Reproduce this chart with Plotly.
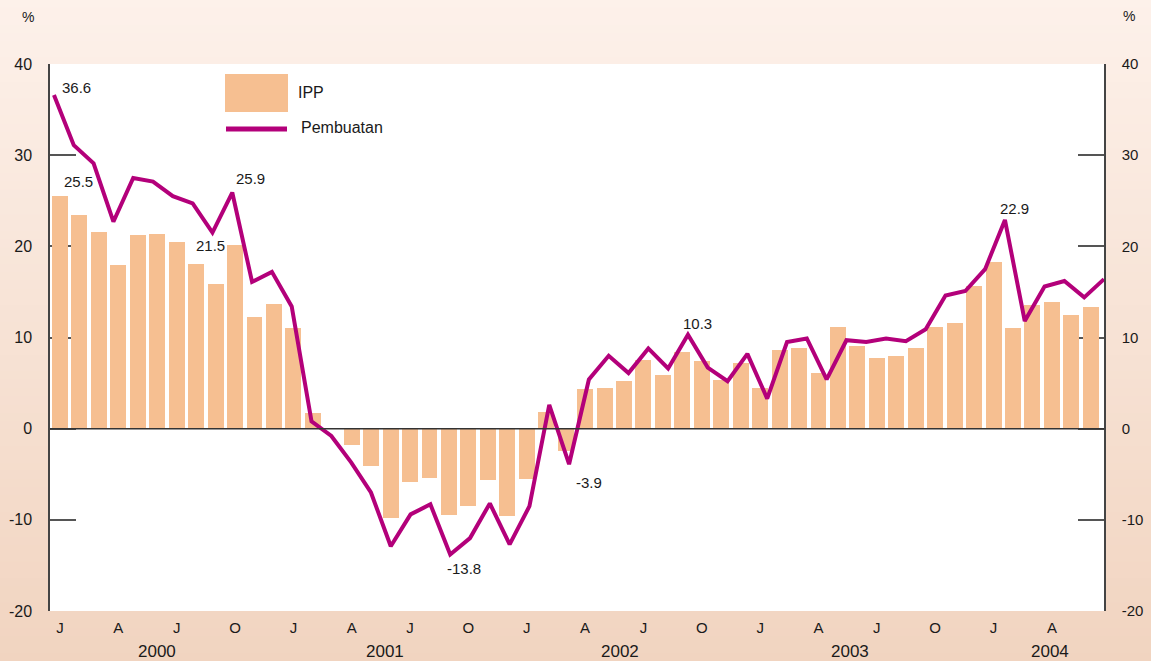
import plotly.graph_objects as go

# ---------------- data ----------------
ipp = [25.5, 23.4, 21.6, 17.9, 21.2, 21.3, 20.5, 18.1, 15.9, 20.2, 12.3, 13.7,
       11.0, 1.7, 0.0, -1.8, -4.1, -9.8, -5.9, -5.4, -9.5, -8.5, -5.6, -9.6,
       -5.5, 1.8, -2.5, 4.4, 4.5, 5.2, 7.5, 5.9, 8.4, 7.4, 5.3, 7.2,
       4.5, 8.6, 8.9, 6.1, 11.1, 9.1, 7.8, 8.0, 8.9, 11.2, 11.6, 15.6,
       18.3, 11.0, 13.6, 13.9, 12.5, 13.3]

pembuatan = [36.6, 31.1, 29.1, 22.7, 27.5, 27.1, 25.5, 24.7, 21.5, 25.9, 16.1, 17.2,
             13.4, 0.8, -0.8, -3.7, -7.0, -12.9, -9.4, -8.3, -13.8, -12.0, -8.2, -12.7,
             -8.5, 2.6, -3.9, 5.4, 8.0, 6.1, 8.8, 6.6, 10.3, 6.7, 5.2, 8.2,
             3.3, 9.5, 9.9, 5.4, 9.7, 9.5, 9.9, 9.6, 10.9, 14.6, 15.1, 17.5,
             22.9, 11.8, 15.6, 16.2, 14.4, 16.4]

month_labels = ["J", "A", "J", "O"] * 4 + ["J", "A"]
years = ["2000", "2001", "2002", "2003", "2004"]
series_names = ["IPP", "Pembuatan"]
y_ticks = [-20, -10, 0, 10, 20, 30, 40]

# labelled points: (series, index)
labelled = [("pembuatan", 0), ("ipp", 0), ("pembuatan", 8), ("pembuatan", 9),
            ("pembuatan", 20), ("pembuatan", 26), ("pembuatan", 32), ("pembuatan", 48)]

# ---------------- layout geometry / style ----------------
W, H = 1151, 661
L, R, T, B = 50, 47, 64, 50
pw, ph = W - L - R, H - T - B

def px(xp):
    return (xp - L) / pw

def py(yp):
    return (H - B - yp) / ph

BAR_COLOR = "#f6bf91"
LINE_COLOR = "#b3007a"
TEXT = "#1a1a1a"
FONT = "Liberation Sans, Arial, sans-serif"

idx = list(range(len(ipp)))
tick_idx = list(range(0, len(ipp), 3))[:len(month_labels)]
year_pos = [5.0, 16.7, 28.8, 40.6, 50.9]

label_offsets = {
    ("pembuatan", 0): (23, 8),
    ("ipp", 0): (18, 15),
    ("pembuatan", 8): (-2, -13),
    ("pembuatan", 9): (18, 14),
    ("pembuatan", 20): (14, -14),
    ("pembuatan", 26): (20, -18),
    ("pembuatan", 32): (10, 11),
    ("pembuatan", 48): (10, 11),
}

fig = go.Figure()
fig.add_trace(go.Bar(x=idx, y=ipp, name=series_names[0], marker_color=BAR_COLOR,
                     marker_line_width=0, width=0.82, xaxis="x", yaxis="y"))
fig.add_trace(go.Scatter(x=idx, y=pembuatan, name=series_names[1], mode="lines",
                         line=dict(color=LINE_COLOR, width=4), xaxis="x2", yaxis="y2"))

# ---------------- background gradient ----------------
shapes = []
top_c = (253, 241, 234)
bot_c = (241, 212, 192)
N = 80
y_top = 1 + T / ph
y_bot = -B / ph
for k in range(N):
    f = (k + 0.5) / N
    c = tuple(round(top_c[j] + (bot_c[j] - top_c[j]) * f) for j in range(3))
    y1 = y_top - (y_top - y_bot) * k / N
    y0 = y_top - (y_top - y_bot) * (k + 1) / N
    shapes.append(dict(type="rect", xref="paper", yref="paper",
                       x0=-L / pw - 0.01, x1=1 + R / pw + 0.01, y0=y0 - 0.003, y1=y1 + 0.001,
                       fillcolor="rgb(%d,%d,%d)" % c, line_width=0, layer="below"))
shapes.append(dict(type="rect", xref="paper", yref="paper", x0=0, x1=1, y0=0, y1=1,
                   fillcolor="white", line_width=0, layer="below"))
# zero line
shapes.append(dict(type="line", xref="paper", yref="y", x0=0, x1=1, y0=0, y1=0,
                   line=dict(color="#333333", width=1.5), layer="above"))
# legend
shapes.append(dict(type="rect", xref="paper", yref="paper", x0=px(225), x1=px(288),
                   y0=py(112), y1=py(74), fillcolor=BAR_COLOR, line_width=0, layer="above"))
shapes.append(dict(type="line", xref="paper", yref="paper", x0=px(226), x1=px(287),
                   y0=py(129), y1=py(129), line=dict(color=LINE_COLOR, width=5), layer="above"))

# ---------------- annotations ----------------
def txt(x, y, text, size=15, xanchor="center", **kw):
    d = dict(x=x, y=y, text=text, showarrow=False, xanchor=xanchor, yanchor="middle",
             font=dict(size=size, color=TEXT, family=FONT))
    d.update(kw)
    return d

ann = []
data_map = {"ipp": ipp, "pembuatan": pembuatan}
for key in labelled:
    s, i = key
    v = data_map[s][i]
    dx, dy = label_offsets[key]
    ann.append(txt(i, v, "%.1f" % v, xref="x" if s == "ipp" else "x2",
                   yref="y" if s == "ipp" else "y2", xshift=dx, yshift=dy))
ann.append(txt(px(296), py(93), series_names[0], size=16, xanchor="left", xref="paper", yref="paper"))
ann.append(txt(px(299), py(128), series_names[1], size=16, xanchor="left", xref="paper", yref="paper"))
ann.append(txt(px(28), py(17), "%", size=14, xref="paper", yref="paper"))
ann.append(txt(px(1129), py(16), "%", size=14, xref="paper", yref="paper"))
for yr, xp in zip(years, year_pos):
    ann.append(txt(xp, py(651), yr, size=17, xref="x", yref="paper"))

yax = dict(range=[-20, 40], tickvals=y_ticks, ticktext=[str(v) for v in y_ticks],
           ticks="inside", ticklen=26,
           tickwidth=1.5, tickcolor="#555555", showline=True, linecolor="#444444", linewidth=1.5,
           showgrid=False, zeroline=False, tickfont=dict(size=16, color=TEXT, family=FONT),
           ticklabelstandoff=13, layer="below traces", fixedrange=True, automargin=False)

fig.update_layout(
    width=W, height=H,
    margin=dict(l=L, r=R, t=T, b=B, pad=0, autoexpand=False),
    paper_bgcolor="rgb(247,226,212)",
    plot_bgcolor="white",
    showlegend=False,
    bargap=0,
    xaxis=dict(range=[-0.514, 53.68], tickvals=tick_idx, ticktext=month_labels, ticks="",
               showline=False, showgrid=False, zeroline=False, automargin=False, fixedrange=True,
               tickfont=dict(size=15, color=TEXT, family=FONT), ticklabelstandoff=6),
    xaxis2=dict(overlaying="x", range=[-0.2, 53.0], visible=False, fixedrange=True),
    yaxis=yax,
    yaxis2=dict(yax, overlaying="y", side="right", anchor="x", ticklabelstandoff=13,
                tickfont=dict(size=15, color=TEXT, family=FONT)),
    shapes=shapes,
    annotations=ann,
)

fig.write_html("out.html", config={"displayModeBar": False},
               post_script="document.body.style.margin='0';document.body.style.overflow='hidden';")
